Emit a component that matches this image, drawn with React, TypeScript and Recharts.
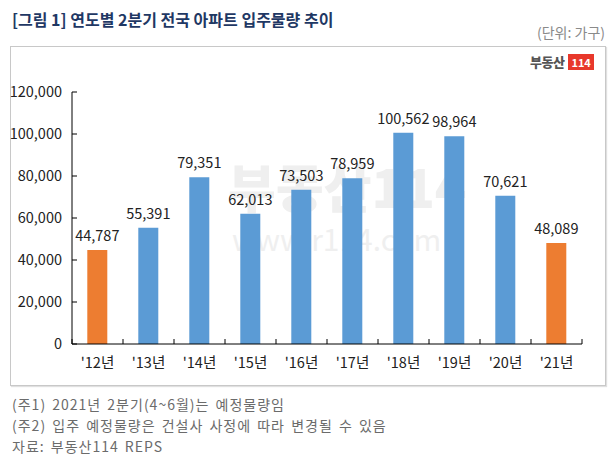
import { Bar, BarChart, XAxis, YAxis, LabelList, Cell } from "recharts"

const years = ["'12년", "'13년", "'14년", "'15년", "'16년", "'17년", "'18년", "'19년", "'20년", "'21년"]
const supply = [44787, 55391, 79351, 62013, 73503, 78959, 100562, 98964, 70621, 48089]
const highlighted = ["'12년", "'21년"]
const yTicks = [0, 20000, 40000, 60000, 80000, 100000, 120000]

const notes = [
  "(주1) 2021년 2분기(4~6월)는 예정물량임",
  "(주2) 입주 예정물량은 건설사 사정에 따라 변경될 수 있음",
  "자료: 부동산114 REPS",
]

const data = years.map((name, i) => ({ name, value: supply[i] }))

const font = "'Noto Sans CJK KR', 'Noto Sans', sans-serif"
const fmt = (v: number) => v.toLocaleString("en-US")

function XTick(props: any) {
  const { x, y, payload, index } = props
  const axisY = y - 19
  const half = payload.offset || 0
  return (
    <g>
      <line x1={x - half} y1={axisY} x2={x - half} y2={axisY - 5} stroke="#000" />
      {index === years.length - 1 && (
        <line x1={x + half} y1={axisY} x2={x + half} y2={axisY - 5} stroke="#000" />
      )}
      <text x={x} y={y} dy={5} textAnchor="middle" fontSize={14.5} fill="#222" fontFamily={font}>
        {payload.value}
      </text>
    </g>
  )
}

function YTick(props: any) {
  const { x, y, payload } = props
  const axisX = x + 10
  return (
    <g>
      <line x1={axisX} y1={y} x2={axisX + 5} y2={y} stroke="#000" />
      <text x={x} y={y} dy={5} textAnchor="end" fontSize={14.5} fill="#222" fontFamily={font}>
        {fmt(payload.value)}
      </text>
    </g>
  )
}

export default function App() {
  return (
    <div style={{ position: "absolute", left: 0, top: 0, width: 614, height: 468, background: "#fff", fontFamily: font }}>
      <div style={{ position: "absolute", left: 12, top: 7, fontSize: 16, fontWeight: 700, color: "#1f3864", whiteSpace: "nowrap" }}>
        [그림 1] 연도별 2분기 전국 아파트 입주물량 추이
      </div>
      <div style={{ position: "absolute", right: 9, top: 22, fontSize: 14, color: "#8a8a8a" }}>(단위: 가구)</div>
      <div style={{ position: "absolute", left: 10, top: 46, width: 594, height: 338, border: "1px solid #c8c8c8", boxShadow: "1px 1px 1px #e0e0e0" }} />
      <div style={{ position: "absolute", left: 530, top: 52, display: "flex", alignItems: "center" }}>
        <span style={{ fontSize: 13, fontWeight: 900, color: "#555", letterSpacing: -0.5 }}>부동산</span>
        <span style={{ marginLeft: 4, background: "#e8382b", color: "#fff", fontSize: 11, fontWeight: 700, padding: "1px 3px", lineHeight: "14px" }}>114</span>
      </div>
      <div style={{ position: "absolute", left: 228, top: 148, fontSize: 52, fontWeight: 900, color: "#efefef", whiteSpace: "nowrap" }}>
        부동산114
      </div>
      <div style={{ position: "absolute", left: 232, top: 216, fontSize: 30, color: "#efefef", whiteSpace: "nowrap" }}>
        www.r114.com
      </div>
      <div style={{ position: "absolute", left: 0, top: 0 }}>
        <BarChart width={614} height={468} data={data} margin={{ top: 92, right: 32, bottom: 94, left: 0 }} barCategoryGap="30%">
          <XAxis
            dataKey="name"
            height={30}
            axisLine={{ stroke: "#000" }}
            tickLine={false}
            tickSize={0}
            tickMargin={19}
            tick={<XTick />}
            interval={0}
          />
          <YAxis
            width={72}
            domain={[0, 120000]}
            ticks={yTicks}
            axisLine={{ stroke: "#000" }}
            tickLine={false}
            tickSize={0}
            tickMargin={10}
            tick={<YTick />}
            interval={0}
          />
          <Bar dataKey="value" isAnimationActive={false}>
            {data.map((d) => (
              <Cell key={d.name} fill={highlighted.includes(d.name) ? "#ed7d31" : "#5b9bd5"} />
            ))}
            <LabelList dataKey="value" position="top" offset={9} formatter={(v: any) => fmt(v)} fontSize={14.5} fill="#222" fontFamily={font} />
          </Bar>
        </BarChart>
      </div>
      {notes.map((n, i) => (
        <div key={i} style={{ position: "absolute", left: 12, top: 394 + i * 21, fontSize: 14, letterSpacing: 1, wordSpacing: 2, color: "#6b6b6b", whiteSpace: "nowrap" }}>
          {n}
        </div>
      ))}
    </div>
  )
}
